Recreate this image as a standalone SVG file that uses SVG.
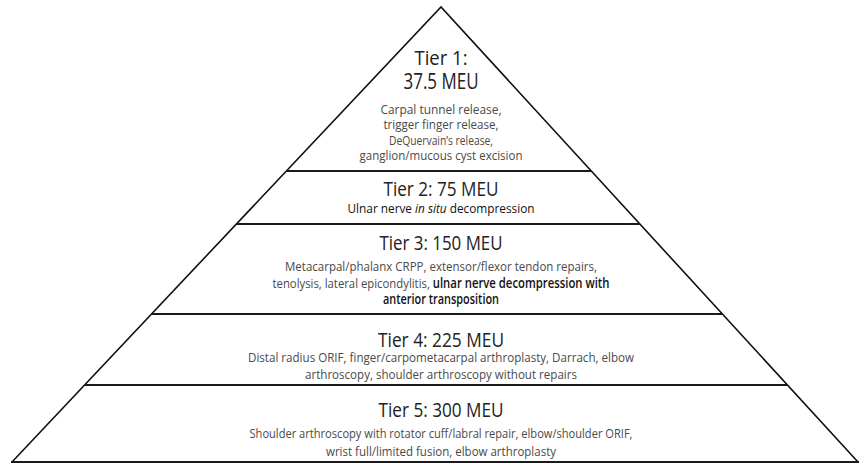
<svg xmlns="http://www.w3.org/2000/svg" width="860" height="464" viewBox="0 0 860 464">
<style>
.side{fill:none;stroke:#111;stroke-width:1.6;stroke-linejoin:miter}
.div{stroke:#1a1a1a;stroke-width:2.2}
.t{font-family:"Open Sans","Noto Sans","Liberation Sans",sans-serif;font-size:19.5px;fill:#222;text-anchor:middle}
.d{font-family:"Open Sans","Noto Sans","Liberation Sans",sans-serif;font-size:13.5px;fill:#4a4a4a;text-anchor:middle}
.b{fill:#111;font-weight:600}
</style>
<rect width="860" height="464" fill="#fff"/>
<g id="pyramid">
<path class="side" d="M12,462 L441,7 L858,462"/>
</g>
<g id="connectors">
<line class="div" x1="286" y1="171" x2="591" y2="171"/>
<line class="div" x1="236" y1="224" x2="640" y2="224"/>
<line class="div" x1="151.5" y1="314" x2="722.5" y2="314"/>
<line class="div" x1="84.5" y1="385" x2="787.7" y2="385"/>
<line class="div" x1="11" y1="462" x2="859" y2="462"/>
</g>
<g id="tier1">
<text class="t" x="441" y="65" textLength="53" lengthAdjust="spacingAndGlyphs">Tier 1:</text>
<text class="t" x="441" y="89" style="font-size:21px" textLength="75" lengthAdjust="spacingAndGlyphs">37.5 MEU</text>
<text class="d" x="441" y="113.5" textLength="121" lengthAdjust="spacingAndGlyphs">Carpal tunnel release,</text>
<text class="d" x="441" y="129" textLength="115" lengthAdjust="spacingAndGlyphs">trigger finger release,</text>
<text class="d" x="441" y="144.5" textLength="104" lengthAdjust="spacingAndGlyphs">DeQuervain’s release,</text>
<text class="d" x="441" y="160" textLength="163" lengthAdjust="spacingAndGlyphs">ganglion/mucous cyst excision</text>
</g>
<g id="tier2">
<text class="t" x="441" y="196" textLength="115" lengthAdjust="spacingAndGlyphs">Tier 2: 75 MEU</text>
<text class="d b" x="441" y="213" style="font-weight:500" textLength="187" lengthAdjust="spacingAndGlyphs">Ulnar nerve <tspan font-style="italic">in situ</tspan> decompression</text>
</g>
<g id="tier3">
<text class="t" x="441" y="250" textLength="123" lengthAdjust="spacingAndGlyphs">Tier 3: 150 MEU</text>
<text class="d" x="441" y="271" textLength="312" lengthAdjust="spacingAndGlyphs">Metacarpal/phalanx CRPP, extensor/flexor tendon repairs,</text>
<text class="d" x="441" y="287.5" textLength="337" lengthAdjust="spacingAndGlyphs">tenolysis, lateral epicondylitis, <tspan class="b">ulnar nerve decompression with</tspan></text>
<text class="d b" x="441" y="304" textLength="116" lengthAdjust="spacingAndGlyphs">anterior transposition</text>
</g>
<g id="tier4">
<text class="t" x="441" y="347" textLength="126" lengthAdjust="spacingAndGlyphs">Tier 4: 225 MEU</text>
<text class="d" x="441" y="362" textLength="386" lengthAdjust="spacingAndGlyphs">Distal radius ORIF, finger/carpometacarpal arthroplasty, Darrach, elbow</text>
<text class="d" x="441" y="378.5" textLength="272" lengthAdjust="spacingAndGlyphs">arthroscopy, shoulder arthroscopy without repairs</text>
</g>
<g id="tier5">
<text class="t" x="441" y="417" textLength="125" lengthAdjust="spacingAndGlyphs">Tier 5: 300 MEU</text>
<text class="d" x="441" y="438" textLength="383" lengthAdjust="spacingAndGlyphs">Shoulder arthroscopy with rotator cuff/labral repair, elbow/shoulder ORIF,</text>
<text class="d" x="441" y="455.5" textLength="230" lengthAdjust="spacingAndGlyphs">wrist full/limited fusion, elbow arthroplasty</text>
</g>
</svg>
